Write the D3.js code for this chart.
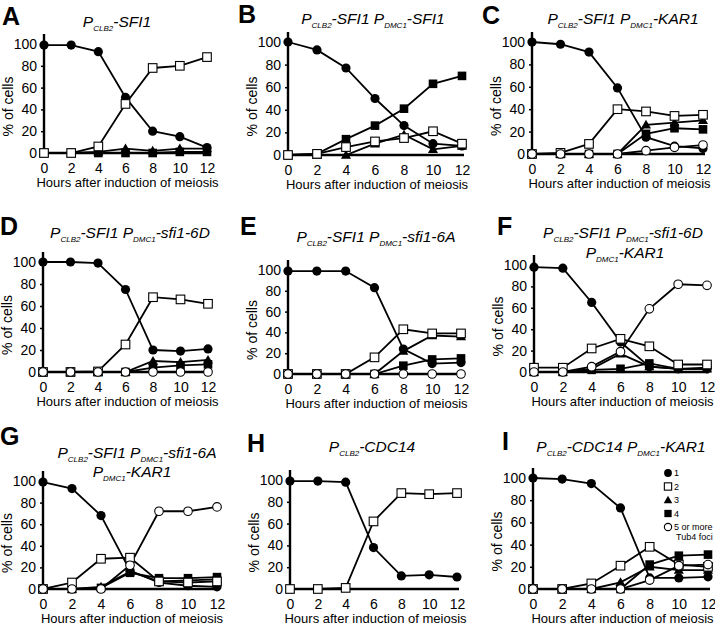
<!DOCTYPE html>
<html><head><meta charset="utf-8">
<script src="https://cdn.jsdelivr.net/npm/d3@7"></script>
<style>
body{margin:0;background:#fff;}
svg{display:block;font-family:"Liberation Sans",Arial,Helvetica,sans-serif;}
</style></head>
<body><svg id="c" width="715" height="625"></svg>
<script>
// ---- data ----
const hours = [0, 2, 4, 6, 8, 10, 12];
const yTicks = [0, 20, 40, 60, 80, 100];
const xTicks = [0, 2, 4, 6, 8, 10, 12];
const seriesNames = ["1", "2", "3", "4", "5 or more"];

const dataA = { "1": [99, 99, 93, 51, 20, 15, 5], "2": [0, 0, 6, 45, 78, 80, 88], "3": [0, 0, 1, 4, 2, 4, 4], "4": [0, 0, 0, 0, 0, 1, 1] };
const dataB = { "1": [100, 93, 77, 50, 26, 10, 8], "2": [0, 1, 7, 12, 15, 21, 10], "3": [0, 0, 0, 10, 18, 5, 8], "4": [0, 1, 14, 26, 41, 63, 70] };
const dataC = { "1": [100, 98, 91, 59, 15, 7, 5], "2": [0, 1, 9, 40, 38, 34, 35], "3": [0, 0, 0, 0, 26, 28, 30], "4": [0, 0, 0, 0, 18, 23, 22], "5 or more": [0, 0, 0, 0, 3, 6, 8] };
const dataD = { "1": [100, 100, 99, 75, 20, 19, 21], "2": [0, 0, 0.5, 25, 68, 66, 62], "3": [0, 0, 0, 0, 10, 9, 11], "4": [0, 0, 0, 0, 4, 6, 7], "5 or more": [0, 0, 0, 0, 0, 0, 0] };
const dataE = { "1": [99, 99, 99, 83, 24, 10, 11], "2": [0, 0, 0, 16, 43, 39, 39], "3": [0, 0, 0, 0, 22, 37, 36], "4": [0, 0, 0, 0, 8, 14, 15], "5 or more": [0, 0, 0, 0, 0, 0, 0] };
const dataF = { "1": [98, 97, 65, 28, 5, 3, 3], "2": [4, 4, 22, 31, 24, 7, 7], "3": [0, 0, 3, 17, 5, 3, 3], "4": [0, 0, 2, 3, 8, 3, 4], "5 or more": [0, 0, 5, 19, 59, 82, 81] };
const dataG = { "1": [99, 93, 68, 17, 6, 3, 2], "2": [0, 6, 28, 29, 7, 6, 7], "3": [0, 0, 2, 16, 7, 8, 9], "4": [0, 0, 1, 15, 10, 10, 11], "5 or more": [0, 0, 0, 22, 72, 72, 76] };
const dataH = { "1": [99, 99, 98, 38, 12, 13, 11], "2": [0, 0, 1, 62, 88, 87, 88] };
const dataI = { "1": [100, 99, 95, 73, 10, 10, 11], "2": [0, 0, 5, 21, 38, 22, 20], "3": [0, 0, 0, 6, 20, 17, 17], "4": [0, 0, 0, 0, 22, 30, 31], "5 or more": [0, 0, 0, 0, 8, 21, 22] };

const titleA = [[["P",""],["CLB2","s"],["-SFI1",""]]];
const titleB = [[["P",""],["CLB2","s"],["-SFI1 P",""],["DMC1","s"],["-SFI1",""]]];
const titleC = [[["P",""],["CLB2","s"],["-SFI1 P",""],["DMC1","s"],["-KAR1",""]]];
const titleD = [[["P",""],["CLB2","s"],["-SFI1 P",""],["DMC1","s"],["-sfi1-6D",""]]];
const titleE = [[["P",""],["CLB2","s"],["-SFI1 P",""],["DMC1","s"],["-sfi1-6A",""]]];
const titleF = [[["P",""],["CLB2","s"],["-SFI1 P",""],["DMC1","s"],["-sfi1-6D",""]], [["P",""],["DMC1","s"],["-KAR1",""]]];
const titleG = [[["P",""],["CLB2","s"],["-SFI1 P",""],["DMC1","s"],["-sfi1-6A",""]], [["P",""],["DMC1","s"],["-KAR1",""]]];
const titleH = [[["P",""],["CLB2","s"],["-CDC14",""]]];
const titleI = [[["P",""],["CLB2","s"],["-CDC14 P",""],["DMC1","s"],["-KAR1",""]]];

// ---- layout ----
const panels = [
  {letter:"A", data:dataA, title:titleA, x0:44, x12:207, y100:44, y0:153, lx:2, ly:25, tx:[117], ty:[27]},
  {letter:"B", data:dataB, title:titleB, x0:288, x12:462, y100:42, y0:155, lx:238, ly:23, tx:[373], ty:[24]},
  {letter:"C", data:dataC, title:titleC, x0:532, x12:703, y100:42, y0:154, lx:482, ly:24, tx:[623], ty:[24]},
  {letter:"D", data:dataD, title:titleD, x0:43, x12:208, y100:262, y0:372, lx:0, ly:235, tx:[130], ty:[238]},
  {letter:"E", data:dataE, title:titleE, x0:288, x12:461, y100:270, y0:374, lx:240, ly:235, tx:[376], ty:[242]},
  {letter:"F", data:dataF, title:titleF, x0:534, x12:707, y100:265, y0:372, lx:497, ly:235, tx:[623,625], ty:[238,258]},
  {letter:"G", data:dataG, title:titleG, x0:43, x12:217, y100:481, y0:589, lx:0, ly:445, tx:[137,132], ty:[458,477]},
  {letter:"H", data:dataH, title:titleH, x0:290, x12:457, y100:480, y0:589, lx:247, ly:452, tx:[372], ty:[452]},
  {letter:"I", data:dataI, title:titleI, x0:533, x12:708, y100:478, y0:589, lx:502, ly:450, tx:[621], ty:[452]}
];

const svg = d3.select("#c");

function marker(g, name, x, y, s) {
  s = s || 1;
  if (name === "1") g.append("circle").attr("cx", x).attr("cy", y).attr("r", 4.6*s).attr("fill", "#000");
  else if (name === "5 or more") g.append("circle").attr("cx", x).attr("cy", y).attr("r", 4.3*s).attr("fill", "#fff").attr("stroke", "#000").attr("stroke-width", 1.1);
  else if (name === "2") g.append("rect").attr("x", x-4.3*s).attr("y", y-4.3*s).attr("width", 8.6*s).attr("height", 8.6*s).attr("fill", "#fff").attr("stroke", "#000").attr("stroke-width", 1.1);
  else if (name === "4") g.append("rect").attr("x", x-4.3*s).attr("y", y-4.3*s).attr("width", 8.6*s).attr("height", 8.6*s).attr("fill", "#000");
  else if (name === "3") g.append("path").attr("d", d3.symbol(d3.symbolTriangle, 44*s*s)()).attr("transform", `translate(${x},${y+0.8})`).attr("fill", "#000");
}

panels.forEach(p => {
  const g = svg.append("g");
  const x = d3.scaleLinear().domain([0, 12]).range([p.x0, p.x12]);
  const y = d3.scaleLinear().domain([0, 100]).range([p.y0, p.y100]);

  // letter
  g.append("text").attr("x", p.lx).attr("y", p.ly).attr("font-size", 25).attr("font-weight", "bold").text(p.letter);

  // title
  p.title.forEach((line, i) => {
    const t = g.append("text").attr("x", p.tx[i]).attr("y", p.ty[i]).attr("text-anchor", "middle")
      .attr("font-size", 15.5).attr("font-style", "italic");
    line.forEach(seg => {
      const ts = t.append("tspan").text(seg[0]);
      if (seg[1] === "s") ts.attr("font-size", 8).attr("dy", 4);
      else ts.attr("dy", seg === line[0] ? 0 : -4);
    });
  });

  // y axis
  const ya = g.append("g").attr("transform", `translate(${p.x0},0)`)
    .call(d3.axisLeft(y).tickValues(yTicks).tickSize(3).tickPadding(4));
  ya.select(".domain").remove();
  ya.selectAll("text").attr("font-size", 14).attr("font-family", "Liberation Sans, Arial, sans-serif").attr("fill", "#000");
  ya.selectAll("line").attr("stroke-width", 1.5);
  g.append("line").attr("x1", p.x0).attr("x2", p.x0).attr("y1", p.y100 - 10).attr("y2", p.y0 + 1)
    .attr("stroke", "#000").attr("stroke-width", 2.4);

  // x axis
  const xa = g.append("g").attr("transform", `translate(0,${p.y0})`)
    .call(d3.axisBottom(x).tickValues(xTicks).tickSize(0).tickPadding(10));
  xa.select(".domain").remove();
  xa.selectAll("text").attr("font-size", 14).attr("font-family", "Liberation Sans, Arial, sans-serif").attr("fill", "#000");
  g.append("line").attr("x1", p.x0).attr("x2", p.x12 + 2).attr("y1", p.y0).attr("y2", p.y0)
    .attr("stroke", "#000").attr("stroke-width", 2.4);

  // axis titles
  g.append("text").attr("transform", `translate(${p.x0 - 31},${(p.y0 + p.y100) / 2 + 8}) rotate(-90)`)
    .attr("text-anchor", "middle").attr("font-size", 14).text("% of cells");
  g.append("text").attr("x", (p.x0 + p.x12) / 2 + 2).attr("y", p.y0 + 34)
    .attr("text-anchor", "middle").attr("font-size", 13).text("Hours after induction of meiosis");

  // lines
  const line = d3.line().x((d, i) => x(hours[i])).y(d => y(d));
  const keys = Object.keys(p.data);
  keys.forEach(k => {
    g.append("path").datum(p.data[k]).attr("d", line).attr("fill", "none").attr("stroke", "#000").attr("stroke-width", 1.8);
  });
  // markers
  const order = ["1", "4", "3", "2", "5 or more"].filter(k => keys.includes(k));
  order.forEach(k => {
    p.data[k].forEach((v, i) => marker(g, k, x(hours[i]), y(v)));
  });
});

// legend in panel I
const lg = svg.append("g");
const legendY = d3.scalePoint().domain(seriesNames).range([473, 527]);
seriesNames.forEach(n => {
  marker(lg, n, 668, legendY(n), 0.85);
  lg.append("text").attr("x", 674).attr("y", legendY(n) + 3.3).attr("font-size", 9).text(n);
});
lg.append("text").attr("x", 676).attr("y", 540).attr("font-size", 9).text("Tub4 foci");
</script></body></html>
